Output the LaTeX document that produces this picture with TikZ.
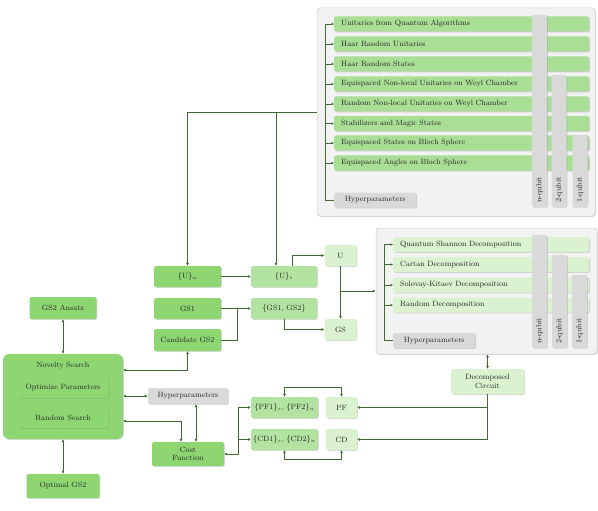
\documentclass[tikz,border=0pt]{standalone}
\usepackage{xcolor}
\usepackage{tikz}
\usetikzlibrary{arrows.meta,shadows}

\definecolor{gsdark}{HTML}{8DD672}
\definecolor{gsmid}{HTML}{B3E3A1}
\definecolor{gslight}{HTML}{DAF2D0}
\definecolor{gsrow}{HTML}{A9DE95}
\definecolor{gsgray}{HTML}{D9D9D9}
\definecolor{gspanel}{HTML}{F2F2F2}
\definecolor{gsborder}{HTML}{CFCFCF}
\definecolor{gsline}{HTML}{3F6B30}
\definecolor{gstext}{HTML}{262626}

\begin{document}
\begin{tikzpicture}[x=1pt, y=-1pt, font=\fontsize{7.6}{8.6}\selectfont, text=gstext]
			\tikzstyle{block} = [rounded corners=1.5pt, inner sep=1pt, drop shadow={opacity=0.3, shadow xshift=0.8pt, shadow yshift=-0.8pt}]
			\tikzstyle{darkblock} = [block, fill=gsdark, minimum width=67pt, minimum height=21pt]
			\tikzstyle{midblock} = [block, fill=gsmid, minimum width=66pt, minimum height=21pt]
			\tikzstyle{lightblock} = [block, fill=gslight, minimum width=32pt, minimum height=21pt]
			\tikzstyle{hyper} = [block, fill=gsgray, minimum width=82pt, minimum height=15pt]
			\tikzstyle{panel} = [block, rounded corners=3pt, fill=gspanel, draw=gsborder, line width=0.5pt]
			\tikzstyle{algo} = [block, fill=gsrow, minimum height=15pt, text width=241pt, inner xsep=7pt, align=left, anchor=west]
			\tikzstyle{decomp} = [block, fill=gslight, minimum height=15pt, text width=182pt, inner xsep=7pt, align=left, anchor=west]
			\tikzstyle{qubit} = [block, fill=gsgray, rotate=90, anchor=west, minimum height=15pt, inner xsep=4pt, align=left]
			\tikzset{edge/.style = {draw=gsline, line width=0.9pt, -{Latex[length=3pt,width=3pt]}}}
			\tikzset{twoway/.style = {edge, {Latex[length=3pt,width=3pt]}-{Latex[length=3pt,width=3pt]}}}
			\tikzset{wire/.style = {draw=gsline, line width=0.9pt}}
			\tikzset{thinedge/.style = {draw=gsline, line width=0.6pt, -{Latex[length=2.5pt,width=2.5pt]}}}
			\tikzset{thinwire/.style = {draw=gsline, line width=0.6pt}}
			
			\useasboundingbox (0,0) rectangle (598,511);
			
			% unitary sources
			\node[panel, minimum width=278pt, minimum height=208pt](algopanel) at (456,112) {};
			\node[algo](algo1) at (334,24) {Unitaries from Quantum Algorithms};
			\node[algo](algo2) at (334,44) {Haar Random Unitaries};
			\node[algo](algo3) at (334,64) {Haar Random States};
			\node[algo](algo4) at (334,84) {Equispaced Non-local Unitaries on Weyl Chamber};
			\node[algo](algo5) at (334,104) {Random Non-local Unitaries on Weyl Chamber};
			\node[algo](algo6) at (334,123.5) {Stabilizers and Magic States};
			\node[algo](algo7) at (334,143) {Equispaced States on Bloch Sphere};
			\node[algo](algo8) at (334,163) {Equispaced Angles on Bloch Sphere};
			\node[hyper, anchor=west](algohyper) at (334,200) {Hyperparameters};
			\node[qubit, text width=184pt](algon) at (539.5,207) {n-qubit};
			\node[qubit, text width=124pt](algotwo) at (559,207) {2-qubit};
			\node[qubit, text width=64pt](algoone) at (580,207) {1-qubit};
			
			\coordinate (algotrunk) at (325,200);
			\draw[thinwire](algo1.west -| algotrunk) -- (algotrunk) -- (algohyper.west);
			\draw[thinedge](algo1.west -| algotrunk) -- (algo1.west);
			\draw[thinedge](algo2.west -| algotrunk) -- (algo2.west);
			\draw[thinedge](algo3.west -| algotrunk) -- (algo3.west);
			\draw[thinedge](algo4.west -| algotrunk) -- (algo4.west);
			\draw[thinedge](algo5.west -| algotrunk) -- (algo5.west);
			\draw[thinedge](algo6.west -| algotrunk) -- (algo6.west);
			\draw[thinedge](algo7.west -| algotrunk) -- (algo7.west);
			\draw[thinedge](algo8.west -| algotrunk) -- (algo8.west);
			
			% decompositions
			\node[panel, minimum width=221pt, minimum height=126pt](decpanel) at (486.5,291) {};
			\node[decomp](dec1) at (393,244.5) {Quantum Shannon Decomposition};
			\node[decomp](dec2) at (393,264.5) {Cartan Decomposition};
			\node[decomp](dec3) at (393,285) {Solovay-Kitaev Decomposition};
			\node[decomp](dec4) at (393,305) {Random Decomposition};
			\node[hyper, anchor=west](dechyper) at (393,340.5) {Hyperparameters};
			\node[qubit, text width=105pt](decn) at (539.5,348) {n-qubit};
			\node[qubit, text width=85pt](dectwo) at (559.5,348) {2-qubit};
			\node[qubit, text width=65pt](decone) at (579.5,348) {1-qubit};
			
			\coordinate (dectrunk) at (384,340.5);
			\draw[thinwire](dec1.west -| dectrunk) -- (dectrunk) -- (dechyper.west);
			\draw[thinedge](dec1.west -| dectrunk) -- (dec1.west);
			\draw[thinedge](dec2.west -| dectrunk) -- (dec2.west);
			\draw[thinedge](dec3.west -| dectrunk) -- (dec3.west);
			\draw[thinedge](dec4.west -| dectrunk) -- (dec4.west);
			
			% sets of unitaries and states
			\node[darkblock](un) at (187.5,276.5) {$\{$U$\}_n$};
			\node[midblock](us) at (284,276.5) {$\{$U$\}_s$};
			\node[lightblock](ubox) at (340.5,255.5) {U};
			\node[darkblock](gs1) at (187.5,308.5) {GS1};
			\node[midblock](gspair) at (284,308.5) {$\{$GS1, GS2$\}$};
			\node[lightblock](gsbox) at (340.5,329.5) {GS};
			\node[darkblock, minimum height=22pt](cand) at (187.5,340) {Candidate GS2};
			
			\draw[edge](algopanel.west) -| (un.north);
			\draw[edge](algopanel.west) -| ([xshift=-8pt]us.north);
			\draw[edge](un) to (us);
			\draw[edge]([xshift=8pt]us.north) |- (ubox.west);
			\draw[edge](ubox) to (gsbox);
			\draw[edge](decpanel.west -| ubox) to (decpanel.west);
			\draw[edge](gs1) to (gspair);
			\coordinate (gsjoin) at (237,308.5);
			\draw[wire](cand.east) -| (gsjoin);
			\draw[edge](gspair.south) |- (gsbox.west);
			
			% search
			\node[darkblock, minimum width=67pt, minimum height=22pt](ansatz) at (63,308) {GS2 Ansatz};
			\node[darkblock, rounded corners=6pt, minimum width=120pt, minimum height=85pt,
			      label={[anchor=north, yshift=-5pt]north:Novelty Search}](novelty) at (63,396.5) {};
			\node[darkblock, minimum width=91pt](optparam) at (63,387.5) {Optimize Parameters};
			\node[darkblock, minimum width=91pt](randsearch) at (63,417.5) {Random Search};
			\node[darkblock, minimum width=73pt, minimum height=24pt](optimal) at (63,486) {Optimal GS2};
			\node[hyper, minimum width=80pt, minimum height=16pt](searchhyper) at (188,396) {Hyperparameters};
			\node[darkblock, minimum width=72pt, minimum height=24pt, align=center](cost) at (188,454) {Cost\\Function};
			
			\draw[twoway](ansatz) to (novelty);
			\draw[twoway](novelty) to (optimal);
			\draw[twoway](cand.south) |- ([yshift=26.5pt]novelty.east);
			\draw[twoway](novelty.east |- searchhyper) to (searchhyper.west);
			\draw[twoway]([xshift=-7pt]cost.north) |- ([yshift=-24.5pt]novelty.east);
			\draw[twoway]([xshift=8pt]searchhyper.south) to ([xshift=8pt]cost.north);
			
			% fidelities and circuit depths
			\node[midblock, minimum width=67pt](pfpair) at (284.5,407.5) {$\{$PF1$\}_s$, $\{$PF2$\}_n$};
			\node[lightblock, minimum width=31pt](pfbox) at (341.5,407.5) {PF};
			\node[midblock, minimum width=67pt](cdpair) at (284.5,439.5) {$\{$CD1$\}_s$, $\{$CD2$\}_n$};
			\node[lightblock, minimum width=31pt](cdbox) at (341.5,439.5) {CD};
			\node[lightblock, minimum width=73pt, minimum height=25pt, align=center](circuit) at (487.5,381.5) {Decomposed\\Circuit};
			
			\coordinate (costjoin) at (238,407.5);
			\draw[edge](costjoin) to (pfpair.west);
			\draw[edge](cdpair.west -| costjoin) to (cdpair.west);
			\draw[edge](costjoin) |- (cost.east);
			\draw[twoway](pfbox.north) |- ([yshift=9pt]pfpair.north) -- (pfpair.north);
			\draw[twoway](cdbox.south) |- ([yshift=-9pt]cdpair.south) -- (cdpair.south);
			\draw[twoway](decpanel.south -| circuit) to (circuit.north);
			\draw[edge](circuit.south) |- (cdbox.east);
			\draw[edge](circuit.south |- pfbox.east) to (pfbox.east);
			
\end{tikzpicture}
\end{document}
